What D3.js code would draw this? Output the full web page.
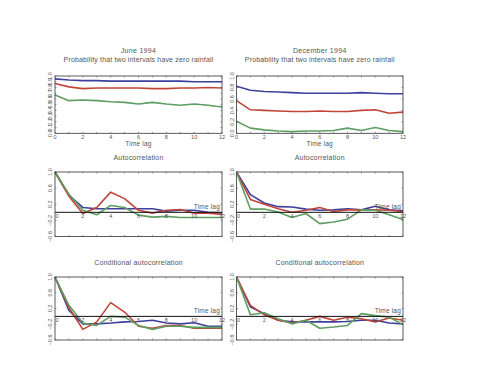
<!DOCTYPE html>
<html>
<head>
<meta charset="utf-8">
<script src="https://cdn.jsdelivr.net/npm/d3@7"></script>
<style>
  html, body { margin: 0; padding: 0; background: #fff; }
  svg { display: block; }
  text { font-family: "Liberation Sans", "DejaVu Sans", sans-serif; fill: #555; }
</style>
</head>
<body>
<svg id="chart" width="496" height="388"></svg>
<script>
// lags 0..12
const lags = d3.range(0, 13);

// June 1994 - probability that two intervals have zero rainfall
const juneProbBlue  = [0.95, 0.93, 0.92, 0.92, 0.91, 0.91, 0.91, 0.91, 0.91, 0.91, 0.90, 0.90, 0.90];
const juneProbRed   = [0.87, 0.81, 0.78, 0.79, 0.79, 0.79, 0.79, 0.78, 0.78, 0.79, 0.79, 0.80, 0.79];
const juneProbGreen = [0.67, 0.57, 0.58, 0.57, 0.55, 0.54, 0.51, 0.54, 0.51, 0.49, 0.51, 0.49, 0.46];

// December 1994 - probability that two intervals have zero rainfall
const decProbBlue  = [0.82, 0.75, 0.73, 0.72, 0.71, 0.70, 0.70, 0.70, 0.70, 0.71, 0.70, 0.69, 0.69];
const decProbRed   = [0.57, 0.41, 0.40, 0.39, 0.38, 0.38, 0.39, 0.38, 0.38, 0.40, 0.41, 0.35, 0.37];
const decProbGreen = [0.21, 0.09, 0.06, 0.04, 0.03, 0.04, 0.04, 0.05, 0.09, 0.05, 0.10, 0.05, 0.03];

// June 1994 - autocorrelation
const juneAcBlue  = [1.0, 0.42, 0.12, 0.09, 0.09, 0.09, 0.09, 0.09, 0.03, 0.05, 0.05, 0.00, -0.01];
const juneAcRed   = [1.0, 0.40, -0.03, 0.12, 0.50, 0.34, 0.05, -0.02, 0.05, 0.07, -0.02, -0.02, -0.05];
const juneAcGreen = [1.0, 0.45, 0.05, -0.06, 0.17, 0.12, -0.07, -0.12, -0.10, -0.13, -0.13, -0.13, -0.13];

// December 1994 - autocorrelation
const decAcBlue  = [1.0, 0.44, 0.23, 0.14, 0.13, 0.08, 0.05, 0.06, 0.09, 0.06, 0.15, 0.06, 0.04];
const decAcRed   = [1.0, 0.32, 0.20, 0.09, 0.00, 0.05, 0.12, 0.02, 0.06, 0.06, 0.06, 0.05, 0.02];
const decAcGreen = [1.0, 0.08, 0.08, 0.01, -0.13, -0.03, -0.28, -0.24, -0.17, 0.06, 0.05, -0.06, -0.18];

// June 1994 - conditional autocorrelation
const juneCondBlue  = [1.0, 0.15, -0.19, -0.19, -0.17, -0.14, -0.13, -0.10, -0.17, -0.19, -0.16, -0.25, -0.25];
const juneCondRed   = [1.0, 0.22, -0.33, -0.14, 0.35, 0.11, -0.25, -0.30, -0.23, -0.23, -0.30, -0.30, -0.30];
const juneCondGreen = [1.0, 0.28, -0.17, -0.23, 0.00, -0.02, -0.23, -0.33, -0.25, -0.25, -0.28, -0.28, -0.28];

// December 1994 - conditional autocorrelation
const decCondBlue  = [1.0, 0.24, 0.07, -0.10, -0.14, -0.14, -0.14, -0.14, -0.13, -0.10, -0.10, -0.17, -0.19];
const decCondRed   = [1.0, 0.28, 0.04, -0.10, -0.17, -0.10, 0.00, -0.10, -0.02, -0.06, -0.14, -0.04, -0.10];
const decCondGreen = [1.0, 0.04, 0.09, -0.06, -0.19, -0.10, -0.30, -0.27, -0.23, 0.07, 0.02, -0.02, -0.21];

const xTickLabels = [0, 2, 4, 6, 8, 10, 12];
const probTicksJune = d3.range(0, 11).map(d => d / 10);
const probTicksDec = [0, 0.2, 0.4, 0.6, 0.8, 1.0];
const acTicks = [1.0, 0.6, 0.2, -0.2, -0.6];

const COLORS = { blue: "#3f3f9e", red: "#c0463a", green: "#5e9e62" };

const svg = d3.select("#chart");

const cols = [[55, 222], [236.5, 403]];
const rows = [
  { y: [76, 133.3], domain: [0, 1], kind: "prob" },
  { y: [172, 236.5], domain: [-0.6, 1], kind: "ac" },
  { y: [277, 340], domain: [-0.6, 1], kind: "ac" }
];

const panels = [
  { col: 0, row: 0, ticks: probTicksJune, series: [juneProbBlue, juneProbRed, juneProbGreen],
    titles: ["June 1994", "Probability that two intervals have zero rainfall"] },
  { col: 1, row: 0, ticks: probTicksDec, series: [decProbBlue, decProbRed, decProbGreen],
    titles: ["December 1994", "Probability that two intervals have zero rainfall"] },
  { col: 0, row: 1, ticks: acTicks, series: [juneAcBlue, juneAcRed, juneAcGreen], titles: ["Autocorrelation"] },
  { col: 1, row: 1, ticks: acTicks, series: [decAcBlue, decAcRed, decAcGreen], titles: ["Autocorrelation"] },
  { col: 0, row: 2, ticks: acTicks, series: [juneCondBlue, juneCondRed, juneCondGreen], titles: ["Conditional autocorrelation"] },
  { col: 1, row: 2, ticks: acTicks, series: [decCondBlue, decCondRed, decCondGreen], titles: ["Conditional autocorrelation"] }
];

const seriesColors = [COLORS.blue, COLORS.red, COLORS.green];

panels.forEach(p => {
  const [x0, x1] = cols[p.col];
  const row = rows[p.row];
  const x = d3.scaleLinear().domain([0, 12]).range([x0, x1]);
  const y = d3.scaleLinear().domain(row.domain).range([row.y[1], row.y[0]]);
  const g = svg.append("g");
  const cx = (x0 + x1) / 2;

  // titles
  if (p.titles.length === 2) {
    g.append("text").attr("x", cx).attr("y", row.y[0] - 23).attr("text-anchor", "middle")
      .attr("font-size", 7).attr("letter-spacing", 0.3).text(p.titles[0]);
    g.append("text").attr("x", cx).attr("y", row.y[0] - 14).attr("text-anchor", "middle")
      .attr("font-size", 7).attr("letter-spacing", 0.15).text(p.titles[1]);
  } else {
    g.append("text").attr("x", cx).attr("y", row.y[0] - 12).attr("text-anchor", "middle")
      .attr("font-size", 7).attr("letter-spacing", 0.2).text(p.titles[0]);
  }

  // data lines
  const line = d3.line().x((d, i) => x(lags[i])).y(d => y(d));
  p.series.forEach((s, i) => {
    g.append("path").datum(s).attr("d", line).attr("fill", "none")
      .attr("stroke", seriesColors[i]).attr("stroke-width", 1.6).attr("stroke-linejoin", "round");
  });

  // frame
  g.append("rect").attr("x", x0).attr("y", row.y[0]).attr("width", x1 - x0).attr("height", row.y[1] - row.y[0])
    .attr("fill", "none").attr("stroke", "#333").attr("stroke-width", 0.8);

  // ticks along top and bottom edges
  lags.forEach(l => {
    g.append("line").attr("x1", x(l)).attr("x2", x(l)).attr("y1", row.y[0]).attr("y2", row.y[0] + 1.5)
      .attr("stroke", "#555").attr("stroke-width", 0.6);
    g.append("line").attr("x1", x(l)).attr("x2", x(l)).attr("y1", row.y[1]).attr("y2", row.y[1] - 1.5)
      .attr("stroke", "#555").attr("stroke-width", 0.6);
  });

  // y ticks + rotated labels
  p.ticks.forEach(t => {
    g.append("line").attr("x1", x0).attr("x2", x0 + 1.5).attr("y1", y(t)).attr("y2", y(t))
      .attr("stroke", "#555").attr("stroke-width", 0.6);
    g.append("line").attr("x1", x1).attr("x2", x1 - 1.5).attr("y1", y(t)).attr("y2", y(t))
      .attr("stroke", "#555").attr("stroke-width", 0.6);
    g.append("text").attr("transform", `translate(${x0 - 3},${y(t)}) rotate(-90)`)
      .attr("text-anchor", "middle").attr("font-size", 5.5).text(d3.format(".1f")(t));
  });

  if (row.kind === "prob") {
    xTickLabels.forEach(t => {
      g.append("text").attr("x", x(t)).attr("y", row.y[1] + 6).attr("text-anchor", "middle")
        .attr("font-size", 5.5).text(t);
    });
    g.append("text").attr("x", cx).attr("y", row.y[1] + 13).attr("text-anchor", "middle")
      .attr("font-size", 6.5).attr("letter-spacing", 0.2).text("Time lag");
  } else {
    // zero line acting as the x axis
    g.append("line").attr("x1", x0).attr("x2", x1).attr("y1", y(0)).attr("y2", y(0))
      .attr("stroke", "#111").attr("stroke-width", 1);
    xTickLabels.forEach(t => {
      g.append("text").attr("x", x(t) + (t === 0 ? 2 : 0)).attr("y", y(0) + 6).attr("text-anchor", "middle")
        .attr("font-size", 5.5).text(t);
    });
    g.append("text").attr("x", x1 - 2).attr("y", y(0) - 3).attr("text-anchor", "end")
      .attr("font-size", 6.5).attr("letter-spacing", 0.2).text("Time lag");
  }
});
</script>
</body>
</html>
